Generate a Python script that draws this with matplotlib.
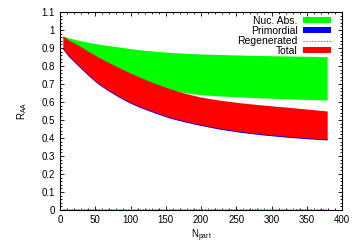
import numpy as np
import matplotlib
matplotlib.use("Agg")
import matplotlib.pyplot as plt
from matplotlib.ticker import MultipleLocator, AutoMinorLocator

plt.rcParams['font.family'] = ['Liberation Sans', 'DejaVu Sans']

# N_part grid and band edges
npart = [4, 12, 25, 40, 54, 68, 82, 97, 113, 135, 156, 177, 199, 225, 255, 285, 320, 350, 379]
nuc_hi = [0.967, 0.957, 0.944, 0.932, 0.922, 0.914, 0.907, 0.898, 0.890, 0.882, 0.875, 0.871, 0.867, 0.864, 0.861, 0.858, 0.856, 0.854, 0.852]
nuc_lo = [0.960, 0.935, 0.905, 0.868, 0.835, 0.805, 0.778, 0.750, 0.724, 0.694, 0.670, 0.652, 0.641, 0.634, 0.628, 0.623, 0.618, 0.614, 0.611]
tot_hi = [0.967, 0.945, 0.918, 0.882, 0.850, 0.822, 0.794, 0.766, 0.738, 0.703, 0.674, 0.649, 0.628, 0.611, 0.596, 0.584, 0.572, 0.561, 0.550]
tot_lo = [0.898, 0.858, 0.808, 0.752, 0.705, 0.668, 0.635, 0.603, 0.575, 0.543, 0.515, 0.494, 0.475, 0.455, 0.437, 0.423, 0.410, 0.401, 0.394]
prim_w = 0.005
regen = [0.004] * len(npart)

npart = np.array(npart)
tot_lo = np.array(tot_lo)

fig = plt.figure(figsize=(3.57, 2.5), dpi=100)
ax = fig.add_axes([60 / 357, 1 - 210 / 250, 282 / 357, 198 / 250])

ax.fill_between(npart, nuc_lo, nuc_hi, color='#00ff00', lw=0, label='Nuc. Abs.')
ax.fill_between(npart, tot_lo - prim_w, tot_lo + prim_w, color='#0000ff', lw=0, label='Primordial')
ax.plot(npart, regen, color='#ff00ff', lw=0.8, ls=':', label='Regenerated')
ax.fill_between(npart, tot_lo, tot_hi, color='#ff0000', lw=0, label='Total')

ax.set_xlim(0, 400)
ax.set_ylim(0, 1.1)
ax.xaxis.set_major_locator(MultipleLocator(50))
ax.xaxis.set_minor_locator(AutoMinorLocator(5))
ax.set_yticks(np.arange(0, 1.15, 0.1))
ax.set_yticklabels(['0', '0.1', '0.2', '0.3', '0.4', '0.5', '0.6', '0.7', '0.8', '0.9', '1', '1.1'])
ax.yaxis.set_minor_locator(AutoMinorLocator(5))
ax.tick_params(which='both', direction='in', top=True, right=True, labelsize=7, width=0.6)
ax.tick_params(which='major', length=3)
ax.tick_params(which='minor', length=1.5)
for s in ax.spines.values():
    s.set_linewidth(0.8)

ax.set_xlabel('N$_{\\mathregular{part}}$', fontsize=7, labelpad=2)
ax.set_ylabel('R$_{\\mathregular{AA}}$', fontsize=7, labelpad=9)

leg = ax.legend(loc='upper right', bbox_to_anchor=(1 - 11 / 282, 1 - 4 / 198),
                frameon=False, fontsize=7.5, markerfirst=False,
                handlelength=2.7, handleheight=0.5, labelspacing=0.0,
                borderaxespad=0, borderpad=0, handletextpad=0.5)

fig.savefig('out.png', dpi=100)
